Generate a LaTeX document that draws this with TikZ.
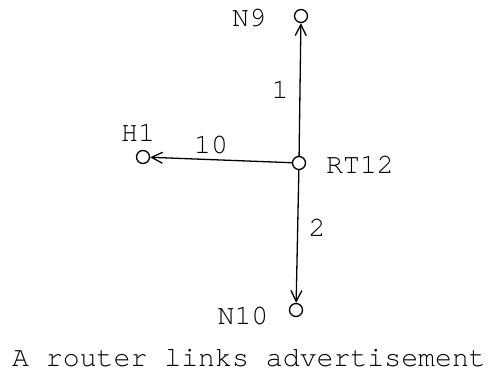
\documentclass[tikz,border=0pt]{standalone}
\usepackage{fontspec}
\setmainfont{TeX Gyre Cursor}
\usetikzlibrary{arrows.meta}
\begin{document}
\begin{tikzpicture}[x=1pt,y=1pt,
  pt/.style={circle,draw,line width=1.3pt,inner sep=0pt,minimum size=13pt},
  lbl/.style={inner sep=0pt,font=\fontsize{28.2}{30}\selectfont},
  link/.style={draw,line width=1.3pt,-{Straight Barb[length=11pt,width=11pt,line width=1.3pt]}}]
\useasboundingbox (0,0) rectangle (498,381);
\node[pt] (N9) at (301,365) {};
\node[pt] (RT12) at (299,218) {};
\node[pt] (H1) at (143,224) {};
\node[pt] (N10) at (296,71) {};
\node[lbl] (tN9) at (249,363) {N9};
\node[lbl] (tH1) at (138,248) {H1};
\node[lbl] (tRT12) at (360,216) {RT12};
\node[lbl] (tN10) at (243,65) {N10};
\node[lbl] (l1) at (280,291) {1};
\node[lbl] (l10) at (211,236) {10};
\node[lbl] (l2) at (317,153) {2};
\node[lbl] (cap) at (249,23) {A router links advertisement};
\draw[link] (RT12) -- (N9);
\draw[link] (RT12) -- (H1);
\draw[link] (RT12) -- (N10);
\end{tikzpicture}
\end{document}
